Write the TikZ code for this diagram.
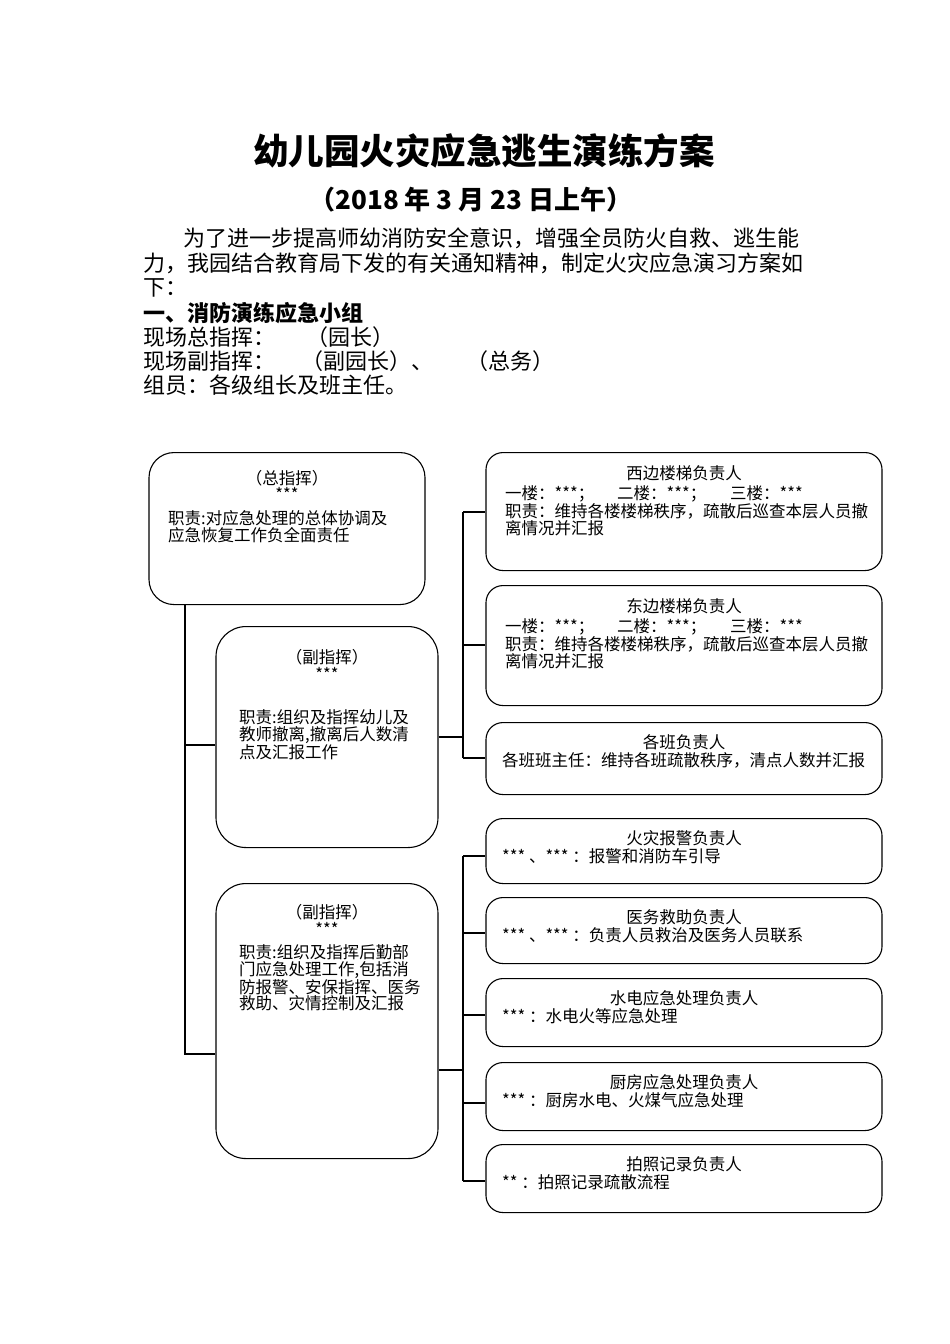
\documentclass[tikz,border=0pt]{standalone}
\usepackage{fontspec}
\setmainfont{Noto Sans CJK SC}
\usetikzlibrary{positioning}

\tikzset{
  txt/.style={inner sep=0pt,anchor=west},
  box/.style={draw,line width=1.1pt,anchor=north,inner sep=0pt,rounded corners=17pt},
  rbox/.style={box,minimum width=396pt},
  cbox/.style={box,minimum width=222pt,rounded corners=30pt},
  link/.style={line width=1.1pt},
  boxfont/.style={font=\fontsize{16.5}{16.5}\selectfont}
}

\begin{document}
\begin{tikzpicture}[x=1pt,y=-1pt,font=\fontsize{22}{24.5}\selectfont]
        \useasboundingbox (0,0) rectangle (950,1344);
        % --- titolo e testo ---
        \node[inner sep=0pt,font=\bfseries\fontsize{35.5}{38}\selectfont] (title) at (484,151) {幼儿园火灾应急逃生演练方案};
        \node[inner sep=0pt,font=\bfseries\fontsize{26}{28}\selectfont] (date) at (471,200) {（2018 年 3 月 23 日上午）};
        \node[txt] (p1) at (183,238) {为了进一步提高师幼消防安全意识，增强全员防火自救、逃生能};
        \node[txt] (p2) at (143,263) {力，我园结合教育局下发的有关通知精神，制定火灾应急演习方案如};
        \node[txt] (p3) at (143,288) {下：};
        \node[txt,font=\bfseries\fontsize{22}{24.5}\selectfont] (sec) at (143,313) {一、消防演练应急小组};
        \node[txt] (r1) at (143,337) {现场总指挥：};
        \node[txt] (r1a) at (306,337) {（园长）};
        \node[txt] (r2) at (143,361) {现场副指挥：};
        \node[txt] (r2a) at (301,361) {（副园长）、};
        \node[txt] (r2b) at (466,361) {（总务）};
        \node[txt] (r3) at (143,385) {组员：各级组长及班主任。};
        % --- colonna sinistra ---
        \node[box,minimum width=276pt,minimum height=152pt,rounded corners=25pt] (cmd) at (287,452) {};
        \node[boxfont,inner sep=0pt] (cmd-t) at (287,478) {（总指挥）};
        \node[boxfont,inner sep=0pt] (cmd-s) at (287,494) {***};
        \node[boxfont,inner sep=0pt,align=left,anchor=north west] (cmd-b) at (168,510.5) {职责:对应急处理的总体协调及\\应急恢复工作负全面责任};
        \node[cbox,minimum height=221pt] (vice1) at (327,626) {};
        \node[boxfont,inner sep=0pt] (vice1-t) at (327,657) {（副指挥）};
        \node[boxfont,inner sep=0pt] (vice1-s) at (327,674) {***};
        \node[boxfont,inner sep=0pt,align=left,anchor=north west] (vice1-b) at (239,709.5) {职责:组织及指挥幼儿及\\教师撤离,撤离后人数清\\点及汇报工作};
        \node[cbox,minimum height=275pt] (vice2) at (327,883) {};
        \node[boxfont,inner sep=0pt] (vice2-t) at (327,912) {（副指挥）};
        \node[boxfont,inner sep=0pt] (vice2-s) at (327,929) {***};
        \node[boxfont,inner sep=0pt,align=left,anchor=north west] (vice2-b) at (239,944.5) {职责:组织及指挥后勤部\\门应急处理工作,包括消\\防报警、安保指挥、医务\\救助、灾情控制及汇报};
        % --- scale ---
        \foreach \nm/\yt/\hh/\ttl in {west/452/118/西边楼梯负责人,east/585/120/东边楼梯负责人}{
            \node[rbox,minimum height=\hh pt] (\nm) at (684,\yt) {};
            \node[boxfont,inner sep=0pt] (\nm-t) at (684,\yt+21) {\ttl};
            \node[inner sep=0pt,align=left,anchor=north west,font=\fontsize{16.5}{17.5}\selectfont] (\nm-b) at (505,\yt+33.5)
                {\makebox[112pt][l]{一楼：***；}\makebox[113pt][l]{二楼：***；}三楼：***\\职责：维持各楼楼梯秩序，疏散后巡查本层人员撤\\离情况并汇报};
        }
        % --- altri responsabili ---
        \foreach \nm/\yt/\hh/\ttl/\bd in {cls/722/72/{各班负责人}/{各班班主任：维持各班疏散秩序，清点人数并汇报},
            fire/818/65/{火灾报警负责人}/{*** 、*** ：报警和消防车引导},
            med/897/66/{医务救助负责人}/{*** 、*** ：负责人员救治及医务人员联系},
            elec/978/68/{水电应急处理负责人}/{*** ：水电火等应急处理},
            kit/1062/68/{厨房应急处理负责人}/{*** ：厨房水电、火煤气应急处理},
            photo/1144/68/{拍照记录负责人}/{** ：拍照记录疏散流程}}{
            \node[rbox,minimum height=\hh pt] (\nm) at (684,\yt) {};
            \node[boxfont,inner sep=0pt] (\nm-t) at (684,\yt+20) {\ttl};
            \node[boxfont,txt] (\nm-b) at (502,\yt+38.5) {\bd};
        }
        % --- collegamenti ---
        \coordinate (lt) at (185,604);
        \coordinate (lb) at (185,1054);
        \draw[link] (cmd.south -| lt) -- (lb) -- (vice2.west |- lb);
        \draw[link] (185,745) -- (vice1.west |- 0,745);
        \draw[link] (vice1.east |- 0,737) -- (463,737);
        \draw[link] (vice2.east |- 0,1070) -- (463,1070);
        \draw[link] (463,512) -- (463,758);
        \draw[link] (463,856) -- (463,1181);
        \foreach \nm/\yy in {west/512,east/645,cls/758,fire/856,med/933,elec/1015,kit/1103,photo/1181}
            \draw[link] (463,\yy) -- (\nm.west |- 0,\yy);
    \end{tikzpicture}
\end{document}
